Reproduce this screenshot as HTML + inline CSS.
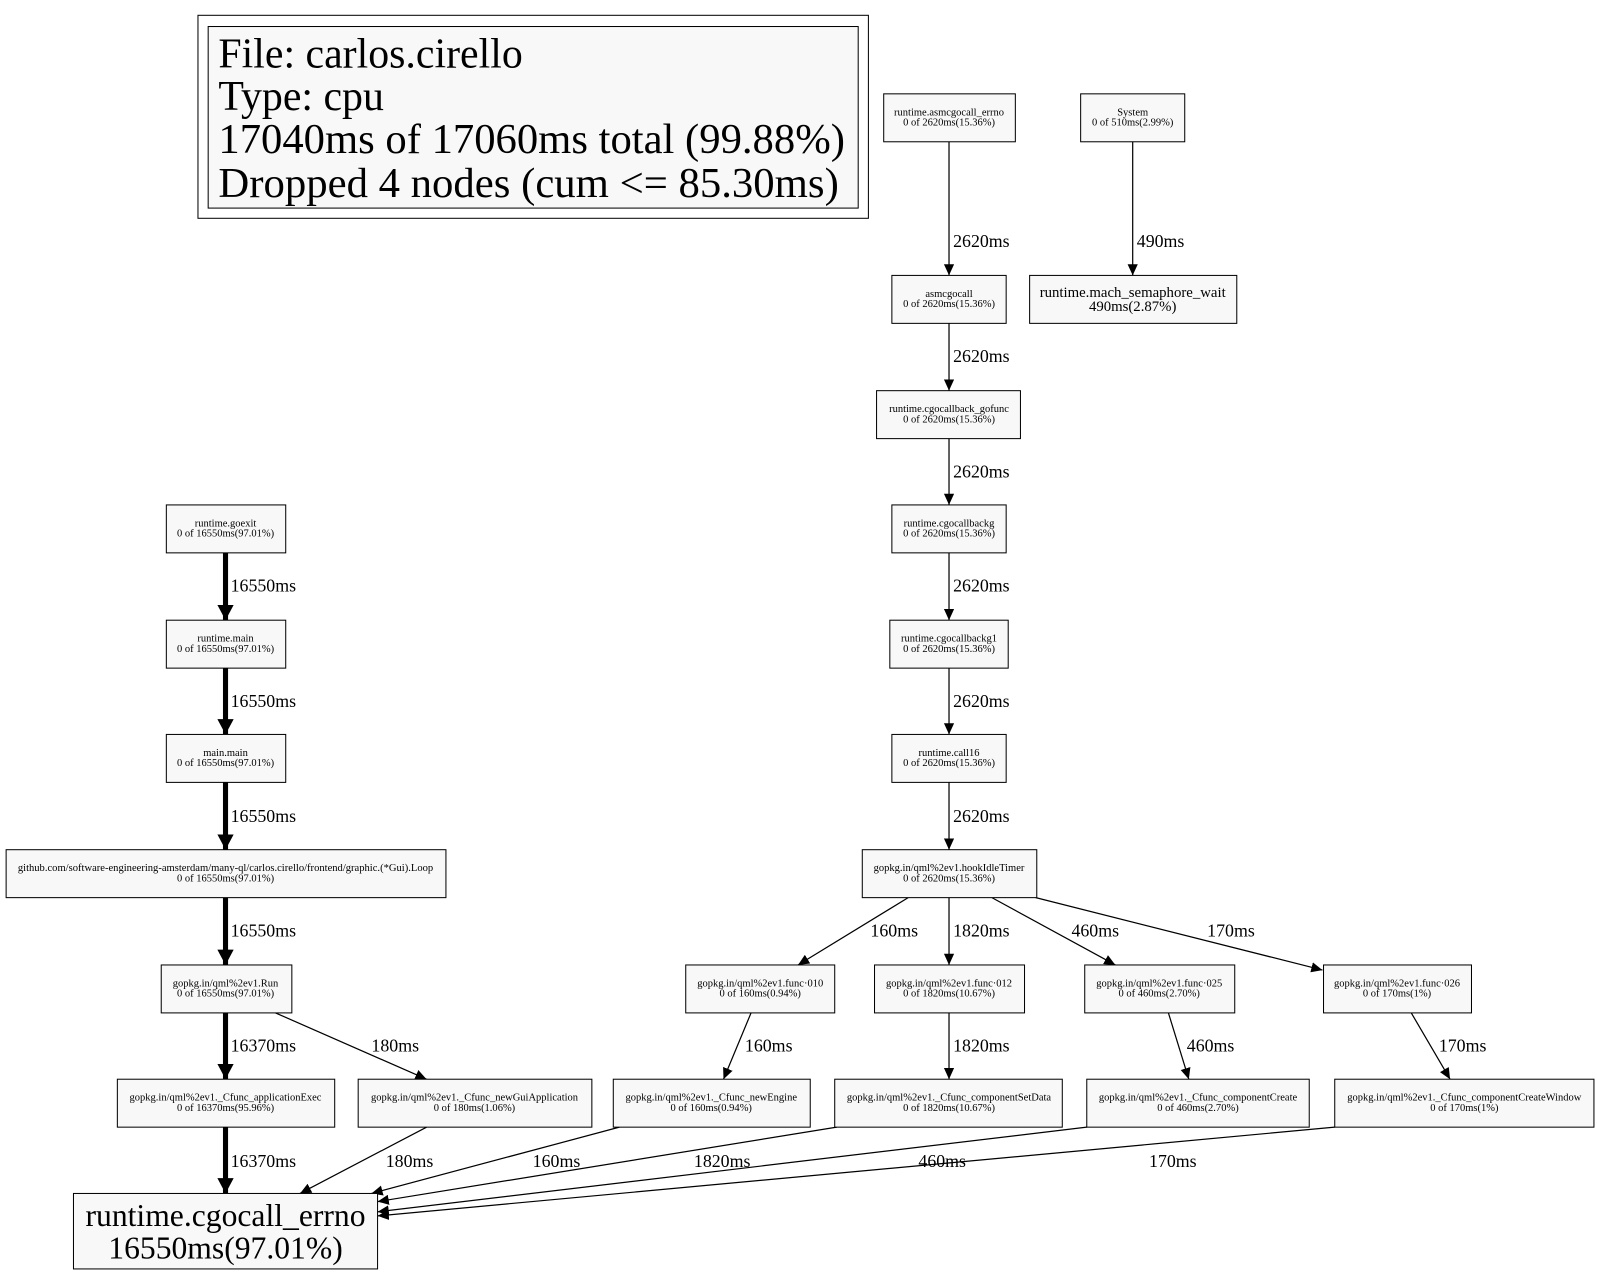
<!DOCTYPE html>
<html><head><meta charset="utf-8"><style>
html,body{margin:0;padding:0;background:#fff;}
svg{display:block;}
text{font-family:"Liberation Serif",serif;fill:#000;}
.n{fill:#f8f8f8;stroke:#000;stroke-width:1;}
.s{font-size:10.3px;text-anchor:middle;}
.l{font-size:17.5px;}
.e{stroke:#000;stroke-width:1.2;fill:none;}
.t{stroke:#000;stroke-width:5;fill:none;}
.g{font-size:41px;}
</style></head><body>
<svg width="1597" height="1272" viewBox="0 0 1565 1247" preserveAspectRatio="none" xmlns="http://www.w3.org/2000/svg">
<defs>
<marker id="a" markerUnits="userSpaceOnUse" markerWidth="12" markerHeight="10" refX="11" refY="5" orient="auto"><path d="M0,0 L11,5 L0,10 z" fill="#000"/></marker>
<marker id="b" markerUnits="userSpaceOnUse" markerWidth="16" markerHeight="16" refX="15" refY="8" orient="auto"><path d="M0,0 L15,8 L0,16 z" fill="#000"/></marker>
</defs>
<rect x="0" y="0" width="1565" height="1247" fill="#fff"/>
<rect x="194" y="15" width="657" height="199" fill="#fff" stroke="#000"/>
<rect x="204" y="26" width="637" height="178" class="n"/>
<text class="g" x="214" y="66">File: carlos.cirello</text>
<text class="g" x="214" y="108">Type: cpu</text>
<text class="g" x="214" y="150" textLength="614" lengthAdjust="spacingAndGlyphs">17040ms of 17060ms total (99.88%)</text>
<text class="g" x="214" y="193" textLength="608" lengthAdjust="spacingAndGlyphs">Dropped 4 nodes (cum &lt;= 85.30ms)</text>

<g class="e" marker-end="url(#a)">
<line x1="930" y1="139" x2="930" y2="270"/>
<line x1="1110" y1="139" x2="1110" y2="270"/>
<line x1="930" y1="317" x2="930" y2="383"/>
<line x1="930" y1="430" x2="930" y2="495"/>
<line x1="930" y1="542" x2="930" y2="608"/>
<line x1="930" y1="655" x2="930" y2="720"/>
<line x1="930" y1="767" x2="930" y2="833"/>
<line x1="890" y1="880" x2="782" y2="946"/>
<line x1="930" y1="880" x2="930" y2="946"/>
<line x1="972" y1="880" x2="1093" y2="946"/>
<line x1="1015" y1="880" x2="1296" y2="951"/>
<line x1="736" y1="993" x2="709" y2="1058"/>
<line x1="930" y1="993" x2="930" y2="1058"/>
<line x1="1145" y1="993" x2="1165" y2="1058"/>
<line x1="1383" y1="993" x2="1421" y2="1058"/>
<line x1="270" y1="993" x2="418" y2="1058"/>
<line x1="418" y1="1105" x2="294" y2="1170"/>
<line x1="607" y1="1105" x2="364" y2="1170"/>
<line x1="820" y1="1105" x2="370" y2="1178"/>
<line x1="1065" y1="1105" x2="370" y2="1188"/>
<line x1="1308" y1="1105" x2="370" y2="1192"/>
</g>
<g class="t" marker-end="url(#b)">
<line x1="221" y1="542" x2="221" y2="608"/>
<line x1="221" y1="655" x2="221" y2="720"/>
<line x1="221" y1="767" x2="221" y2="833"/>
<line x1="221" y1="880" x2="221" y2="946"/>
<line x1="221" y1="993" x2="221" y2="1058"/>
<line x1="221" y1="1105" x2="221" y2="1170"/>
</g>
<g class="l">
<text x="934" y="242">2620ms</text>
<text x="1114" y="242">490ms</text>
<text x="934" y="355">2620ms</text>
<text x="934" y="468">2620ms</text>
<text x="934" y="580">2620ms</text>
<text x="934" y="693">2620ms</text>
<text x="934" y="806">2620ms</text>
<text x="853" y="918">160ms</text>
<text x="934" y="918">1820ms</text>
<text x="1050" y="918">460ms</text>
<text x="1183" y="918">170ms</text>
<text x="730" y="1031">160ms</text>
<text x="934" y="1031">1820ms</text>
<text x="1163" y="1031">460ms</text>
<text x="1410" y="1031">170ms</text>
<text x="364" y="1031">180ms</text>
<text x="226" y="580">16550ms</text>
<text x="226" y="693">16550ms</text>
<text x="226" y="806">16550ms</text>
<text x="226" y="918">16550ms</text>
<text x="226" y="1031">16370ms</text>
<text x="226" y="1144">16370ms</text>
<text x="378" y="1144">180ms</text>
<text x="522" y="1144">160ms</text>
<text x="680" y="1144">1820ms</text>
<text x="900" y="1144">460ms</text>
<text x="1126" y="1144">170ms</text>
</g>

<rect class="n" x="866" y="92" width="129" height="47"/>
<text class="s" x="930" y="113">runtime.asmcgocall_errno</text><text class="s" x="930" y="123">0 of 2620ms(15.36%)</text>
<rect class="n" x="1059" y="92" width="102" height="47"/>
<text class="s" x="1110" y="113">System</text><text class="s" x="1110" y="123">0 of 510ms(2.99%)</text>
<rect class="n" x="874" y="270" width="112" height="47"/>
<text class="s" x="930" y="291">asmcgocall</text><text class="s" x="930" y="301">0 of 2620ms(15.36%)</text>
<rect class="n" x="1009" y="270" width="203" height="47"/>
<text x="1110" y="291" style="font-size:14.5px;text-anchor:middle">runtime.mach_semaphore_wait</text><text x="1110" y="305" style="font-size:14.5px;text-anchor:middle">490ms(2.87%)</text>
<rect class="n" x="859" y="383" width="141" height="47"/>
<text class="s" x="930" y="404">runtime.cgocallback_gofunc</text><text class="s" x="930" y="414">0 of 2620ms(15.36%)</text>
<rect class="n" x="874" y="495" width="112" height="47"/>
<text class="s" x="930" y="516">runtime.cgocallbackg</text><text class="s" x="930" y="526">0 of 2620ms(15.36%)</text>
<rect class="n" x="872" y="608" width="116" height="47"/>
<text class="s" x="930" y="629">runtime.cgocallbackg1</text><text class="s" x="930" y="639">0 of 2620ms(15.36%)</text>
<rect class="n" x="874" y="720" width="112" height="47"/>
<text class="s" x="930" y="741">runtime.call16</text><text class="s" x="930" y="751">0 of 2620ms(15.36%)</text>
<rect class="n" x="845" y="833" width="171" height="47"/>
<text class="s" x="930" y="854">gopkg.in/qml%2ev1.hookIdleTimer</text><text class="s" x="930" y="864">0 of 2620ms(15.36%)</text>

<rect class="n" x="163" y="495" width="117" height="47"/>
<text class="s" x="221" y="516">runtime.goexit</text><text class="s" x="221" y="526">0 of 16550ms(97.01%)</text>
<rect class="n" x="163" y="608" width="117" height="47"/>
<text class="s" x="221" y="629">runtime.main</text><text class="s" x="221" y="639">0 of 16550ms(97.01%)</text>
<rect class="n" x="163" y="720" width="117" height="47"/>
<text class="s" x="221" y="741">main.main</text><text class="s" x="221" y="751">0 of 16550ms(97.01%)</text>
<rect class="n" x="6" y="833" width="431" height="47"/>
<text class="s" x="221" y="854" textLength="407" lengthAdjust="spacingAndGlyphs">github.com/software-engineering-amsterdam/many-ql/carlos.cirello/frontend/graphic.(*Gui).Loop</text><text class="s" x="221" y="864">0 of 16550ms(97.01%)</text>
<rect class="n" x="158" y="946" width="128" height="47"/>
<text class="s" x="221" y="967">gopkg.in/qml%2ev1.Run</text><text class="s" x="221" y="977">0 of 16550ms(97.01%)</text>

<rect class="n" x="672" y="946" width="146" height="47"/>
<text class="s" x="745" y="967">gopkg.in/qml%2ev1.func·010</text><text class="s" x="745" y="977">0 of 160ms(0.94%)</text>
<rect class="n" x="857" y="946" width="147" height="47"/>
<text class="s" x="930" y="967">gopkg.in/qml%2ev1.func·012</text><text class="s" x="930" y="977">0 of 1820ms(10.67%)</text>
<rect class="n" x="1063" y="946" width="147" height="47"/>
<text class="s" x="1136" y="967">gopkg.in/qml%2ev1.func·025</text><text class="s" x="1136" y="977">0 of 460ms(2.70%)</text>
<rect class="n" x="1297" y="946" width="145" height="47"/>
<text class="s" x="1369" y="967">gopkg.in/qml%2ev1.func·026</text><text class="s" x="1369" y="977">0 of 170ms(1%)</text>

<rect class="n" x="115" y="1058" width="213" height="47"/>
<text class="s" x="221" y="1079">gopkg.in/qml%2ev1._Cfunc_applicationExec</text><text class="s" x="221" y="1089">0 of 16370ms(95.96%)</text>
<rect class="n" x="351" y="1058" width="229" height="47"/>
<text class="s" x="465" y="1079">gopkg.in/qml%2ev1._Cfunc_newGuiApplication</text><text class="s" x="465" y="1089">0 of 180ms(1.06%)</text>
<rect class="n" x="601" y="1058" width="193" height="47"/>
<text class="s" x="697" y="1079">gopkg.in/qml%2ev1._Cfunc_newEngine</text><text class="s" x="697" y="1089">0 of 160ms(0.94%)</text>
<rect class="n" x="818" y="1058" width="223" height="47"/>
<text class="s" x="930" y="1079">gopkg.in/qml%2ev1._Cfunc_componentSetData</text><text class="s" x="930" y="1089">0 of 1820ms(10.67%)</text>
<rect class="n" x="1065" y="1058" width="218" height="47"/>
<text class="s" x="1174" y="1079">gopkg.in/qml%2ev1._Cfunc_componentCreate</text><text class="s" x="1174" y="1089">0 of 460ms(2.70%)</text>
<rect class="n" x="1308" y="1058" width="254" height="47"/>
<text class="s" x="1435" y="1079">gopkg.in/qml%2ev1._Cfunc_componentCreateWindow</text><text class="s" x="1435" y="1089">0 of 170ms(1%)</text>

<rect class="n" x="72" y="1170" width="298" height="74"/>
<text x="221" y="1202" style="font-size:31px;text-anchor:middle">runtime.cgocall_errno</text>
<text x="221" y="1234" style="font-size:31px;text-anchor:middle">16550ms(97.01%)</text>
</svg>
</body></html>
